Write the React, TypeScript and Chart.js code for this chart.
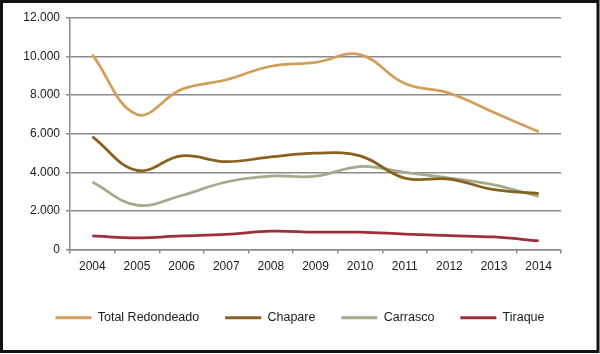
import React, { useEffect, useRef } from "react";
import { Chart, registerables } from "chart.js";

Chart.register(...registerables);

const years = ["2004", "2005", "2006", "2007", "2008", "2009", "2010", "2011", "2012", "2013", "2014"];
const totalRedondeado = [10100, 7000, 8300, 8800, 9500, 9700, 10100, 8600, 8100, 7100, 6100];
const chapare = [5850, 4100, 4850, 4550, 4800, 5000, 4850, 3700, 3650, 3100, 2900];
const carrasco = [3500, 2300, 2800, 3500, 3800, 3800, 4300, 4000, 3700, 3350, 2750];
const tiraque = [700, 600, 700, 780, 950, 900, 900, 800, 720, 650, 450];
const seriesNames = ["Total Redondeado", "Chapare", "Carrasco", "Tiraque"];
const seriesColors = ["#D19F5A", "#876120", "#A3AB8B", "#9E2E3A"];

const framePlugin = {
  id: "frame",
  beforeDraw(chart: any) {
    const ctx = chart.ctx;
    ctx.save();
    ctx.fillStyle = "#ffffff";
    ctx.fillRect(0, 0, chart.width, chart.height);
    ctx.restore();
  },
  afterDraw(chart: any) {
    const ctx = chart.ctx;
    ctx.save();
    ctx.strokeStyle = "#111111";
    ctx.lineWidth = 3;
    ctx.strokeRect(1.5, 1.5, 596.5, 350);
    ctx.restore();
  },
};

export default function App() {
  const ref = useRef<HTMLCanvasElement>(null);
  useEffect(() => {
    if (!ref.current) return;
    const data = [totalRedondeado, chapare, carrasco, tiraque];
    const chart = new Chart(ref.current, {
      type: "line",
      data: {
        labels: years,
        datasets: seriesNames.map((name, i) => ({
          label: name,
          data: data[i],
          borderColor: seriesColors[i],
          backgroundColor: seriesColors[i],
          borderWidth: 2.75,
          pointRadius: 0,
          tension: 0.4,
          fill: false,
        })),
      },
      options: {
        responsive: false,
        animation: false,
        layout: { padding: { top: 18, left: 0, right: 0, bottom: 20 } },
        plugins: {
          tooltip: { enabled: false },
          legend: {
            position: "bottom",
            labels: {
              boxWidth: 36,
              boxHeight: 3,
              padding: 26,
              color: "#1a1a1a",
              font: { family: "Liberation Sans, Arial, sans-serif", size: 12.5 },
              generateLabels: (c: any) =>
                c.data.datasets.map((d: any, i: number) => ({
                  text: d.label,
                  fillStyle: d.borderColor,
                  strokeStyle: d.borderColor,
                  lineWidth: 0,
                  fontColor: "#1a1a1a",
                  datasetIndex: i,
                  hidden: false,
                })),
            },
          },
        },
        scales: {
          x: {
            offset: true,
            grid: {
              offset: true,
              drawOnChartArea: false,
              drawTicks: true,
              tickLength: 4,
              color: "#8a8a8a",
              lineWidth: 1.5,
            },
            border: { color: "#8a8a8a", width: 1.5 },
            ticks: {
              color: "#1a1a1a",
              padding: 6,
              maxRotation: 0,
              font: { family: "Liberation Sans, Arial, sans-serif", size: 12 },
            },
            afterFit: (s: any) => {
              s.height = 36;
            },
          },
          y: {
            min: 0,
            max: 12000,
            ticks: {
              stepSize: 2000,
              color: "#1a1a1a",
              padding: 6,
              font: { family: "Liberation Sans, Arial, sans-serif", size: 12 },
              callback: (v: any) => Number(v).toLocaleString("de-DE"),
            },
            grid: {
              color: "#8a8a8a",
              lineWidth: 1.5,
              tickLength: 4,
            },
            border: { color: "#8a8a8a", width: 1.5 },
            afterFit: (s: any) => {
              s.width = 70;
            },
          },
          yRight: {
            position: "right",
            min: 0,
            max: 12000,
            grid: { display: false, drawTicks: false },
            border: { display: false },
            ticks: { display: false },
            afterFit: (s: any) => {
              s.width = 39;
            },
          },
        },
      },
      plugins: [framePlugin],
    });
    return () => chart.destroy();
  }, []);
  return (
    <div style={{ position: "absolute", left: 0, top: 0, width: 600, height: 354 }}>
      <canvas ref={ref} width={600} height={354} style={{ width: 600, height: 354 }} />
    </div>
  );
}
